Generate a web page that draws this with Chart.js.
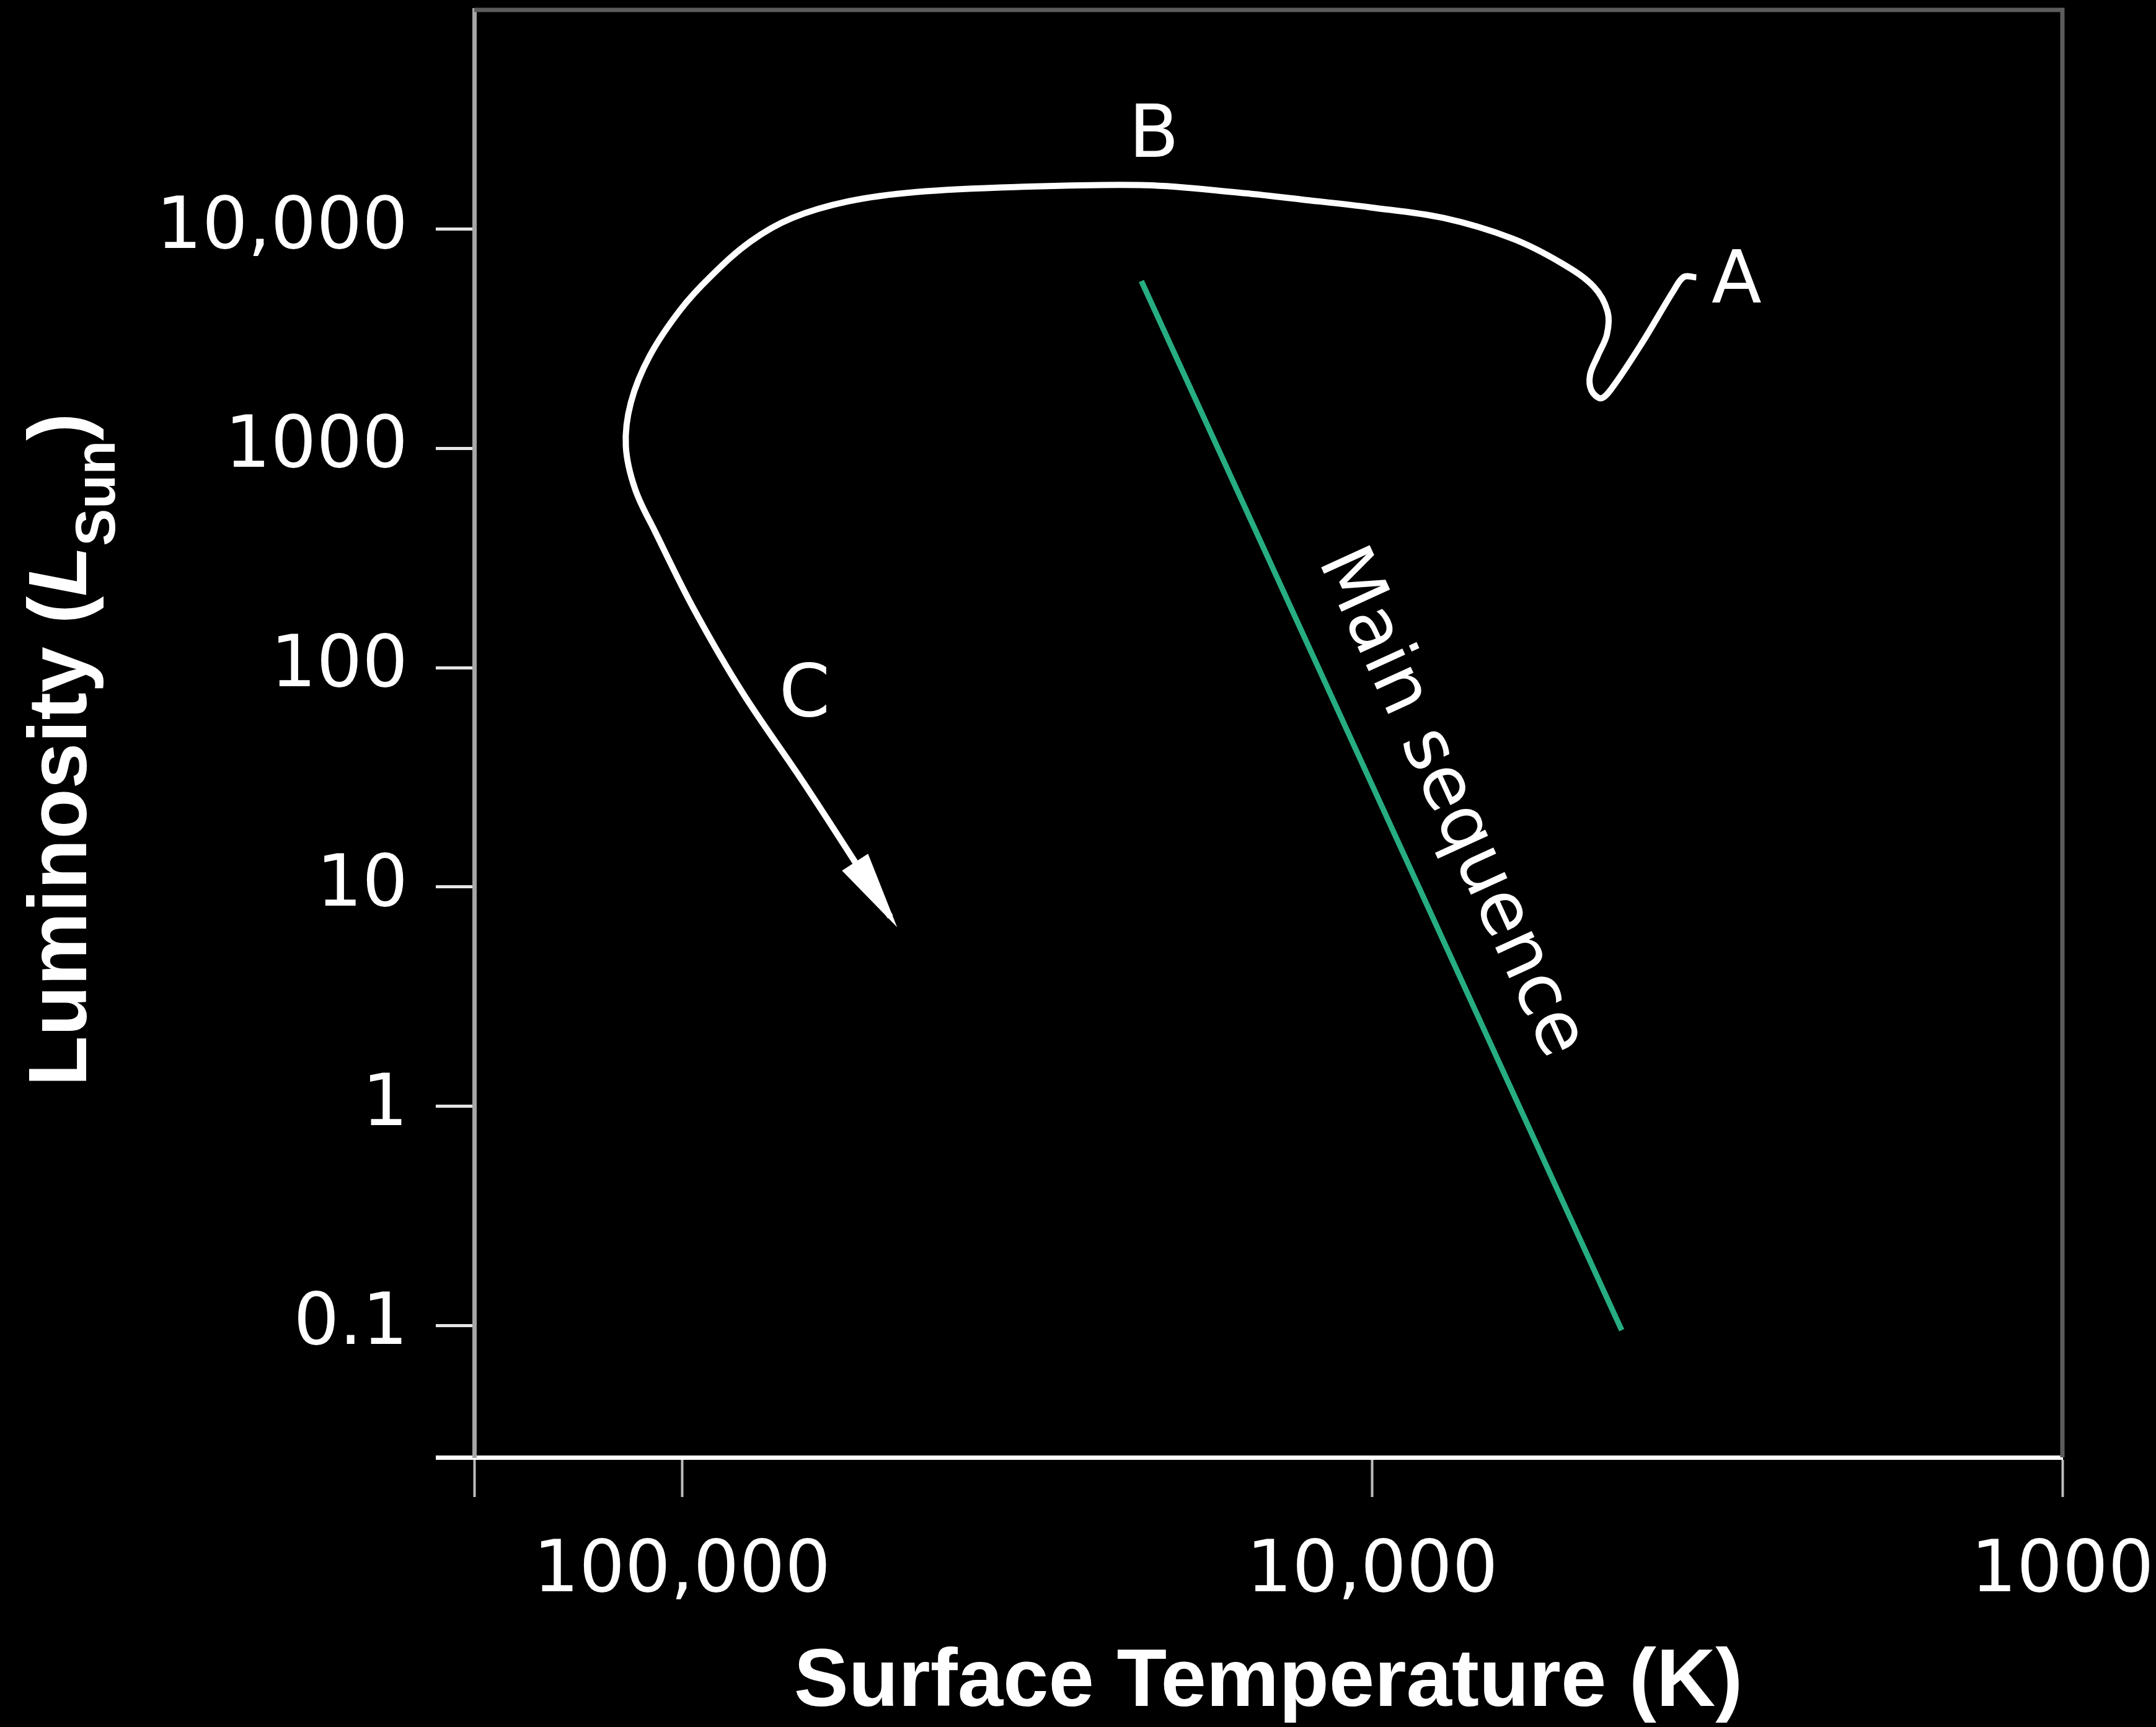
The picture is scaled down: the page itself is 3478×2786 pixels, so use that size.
<!DOCTYPE html>
<html>
<head>
<meta charset="utf-8">
<script src="https://cdn.jsdelivr.net/npm/chart.js@4.4.1/dist/chart.umd.min.js"></script>
<style>
  html, body { margin: 0; padding: 0; background: #000; }
  canvas { display: block; }
</style>
</head>
<body>
<canvas id="hr" width="3478" height="2786"></canvas>
<script>
// evolutionary track: starts at the end near A, hooks, runs over B, then down to C
const trackTemp = [3392, 3535, 3662, 4061, 4504, 4665, 4814, 4834, 4714, 4570, 4560, 4774,
  5315, 6272, 7875, 10035, 12680, 15600, 21280, 32860, 45760, 57340, 69230, 79560, 90620,
  100500, 111400, 118600, 120600, 116900, 109200, 96030, 81750, 66440, 49900]
const trackLum = [6022, 6061, 5218, 3041, 1867, 1693, 1843, 2169, 2636, 3310, 4211, 5461,
  6992, 9071, 11240, 12560, 13670, 14680, 15870, 15560, 14770, 13400, 11240, 8780, 6139,
  4294, 2636, 1618, 1026, 651, 413, 184, 77.1, 29.4, 7.3]

// main sequence, two ends
const mainSeqTemp = [21600, 4350]
const mainSeqLum = [5800, 0.095]

// letter labels along the track
const pointLabels = ['A', 'B', 'C']
const pointLabelTemp = [2965, 20710, 66440]
const pointLabelLum = [5641, 26180, 73.6]

const mainSeqText = 'Main sequence'
const mainSeqTextTemp = 7714
const mainSeqTextLum = 24.1

const xTickValues = [1000, 10000, 100000, 200000]
const xTickLabels = ['1000', '10,000', '100,000', '']
const yTickValues = [0.025, 0.1, 1, 10, 100, 1000, 10000]
const yTickLabels = ['', '0.1', '1', '10', '100', '1000', '10,000']

const toPoints = (xs, ys) => xs.map((x, i) => ({x: x, y: ys[i]}))

// grey frame on top and right of the plot
const frame = {
  id: 'frame',
  beforeDatasetsDraw(chart) {
    const {ctx, chartArea: a} = chart
    ctx.save()
    ctx.strokeStyle = '#5c5c5c'
    ctx.lineWidth = 7
    ctx.beginPath()
    ctx.moveTo(a.left, a.top)
    ctx.lineTo(a.right, a.top)
    ctx.lineTo(a.right, a.bottom)
    ctx.stroke()
    ctx.restore()
  }
}

const annotations = {
  id: 'annotations',
  afterDatasetsDraw(chart) {
    const {ctx, chartArea: a} = chart
    const sx = chart.scales.x, sy = chart.scales.y
    const px = (t, l) => ({x: sx.getPixelForValue(t), y: sy.getPixelForValue(l)})
    ctx.save()
    ctx.fillStyle = '#fff'

    // arrow head at the end of the track
    const n = trackTemp.length
    const p1 = px(trackTemp[n - 2], trackLum[n - 2])
    const p2 = px(trackTemp[n - 1], trackLum[n - 1])
    const ang = Math.atan2(p2.y - p1.y, p2.x - p1.x)
    ctx.save()
    ctx.translate(p2.x, p2.y)
    ctx.rotate(ang)
    ctx.beginPath()
    ctx.moveTo(20, 0)
    ctx.lineTo(-105, -25)
    ctx.lineTo(-105, 25)
    ctx.closePath()
    ctx.fill()
    ctx.restore()

    // A, B, C
    ctx.font = '118px "DejaVu Sans"'
    ctx.textAlign = 'center'
    ctx.textBaseline = 'middle'
    pointLabels.forEach((s, i) => {
      const p = px(pointLabelTemp[i], pointLabelLum[i])
      ctx.fillText(s, p.x, p.y)
    })

    // "Main sequence" along the green line
    const m1 = px(mainSeqTemp[0], mainSeqLum[0])
    const m2 = px(mainSeqTemp[1], mainSeqLum[1])
    const c = px(mainSeqTextTemp, mainSeqTextLum)
    ctx.save()
    ctx.translate(c.x, c.y)
    ctx.rotate(Math.atan2(m2.y - m1.y, m2.x - m1.x))
    ctx.font = '118px "DejaVu Sans"'
    ctx.fillText(mainSeqText, 0, 0)
    ctx.restore()

    // y axis title with italic L and subscript
    const parts = [
      {text: 'Luminosity (', font: 'bold 133px "Liberation Sans"', dy: 0},
      {text: 'L', font: 'italic bold 133px "Liberation Sans"', dy: 0},
      {text: 'Sun', font: 'bold 90px "Liberation Sans"', dy: 46},
      {text: ')', font: 'bold 133px "Liberation Sans"', dy: 0}
    ]
    let total = 0
    parts.forEach(p => { ctx.font = p.font; p.w = ctx.measureText(p.text).width; total += p.w })
    ctx.translate(139, (a.top + a.bottom) / 2 + 26)
    ctx.rotate(-Math.PI / 2)
    ctx.textAlign = 'left'
    ctx.textBaseline = 'alphabetic'
    let x = -total / 2
    parts.forEach(p => { ctx.font = p.font; ctx.fillText(p.text, x, p.dy); x += p.w })
    ctx.restore()
  }
}

let chart = new Chart(document.getElementById('hr'), {
  type: 'scatter',
  data: {
    datasets: [{
      label: 'Main sequence',
      data: toPoints(mainSeqTemp, mainSeqLum),
      showLine: true,
      borderColor: '#27ad82',
      borderWidth: 9,
      pointRadius: 0
    },
    {
      label: 'Track',
      data: toPoints(trackTemp, trackLum),
      showLine: true,
      borderColor: '#ffffff',
      borderWidth: 10,
      pointRadius: 0,
      tension: 0.35
    }]
  },
  options: {
    responsive: false,
    devicePixelRatio: 1,
    animation: false,
    layout: {padding: {top: 16, right: 151, left: 0, bottom: 0}},
    plugins: {legend: {display: false}, tooltip: {enabled: false}},
    scales: {
      x: {
        type: 'logarithmic',
        reverse: true,
        min: 1000,
        max: 200000,
        afterBuildTicks: s => { s.ticks = xTickValues.map(v => ({value: v})) },
        afterFit: s => { s.height = 435; s.paddingLeft = 0; s.paddingRight = 0 },
        ticks: {
          autoSkip: false,
          maxRotation: 0,
          color: '#fff',
          padding: 52,
          font: {family: 'DejaVu Sans', size: 116},
          callback: v => xTickLabels[xTickValues.indexOf(v)]
        },
        grid: {drawOnChartArea: false, tickLength: 64, tickColor: '#bdbdbd', tickWidth: 4},
        border: {color: '#fff', width: 7},
        title: {
          display: true,
          text: 'Surface Temperature (K)',
          color: '#fff',
          font: {family: 'Liberation Sans', weight: 'bold', size: 132, lineHeight: 1},
          padding: {top: 0, bottom: 4}
        }
      },
      y: {
        type: 'logarithmic',
        min: 0.025,
        max: 100000,
        afterBuildTicks: s => { s.ticks = yTickValues.map(v => ({value: v})) },
        afterFit: s => { s.width = 765; s.paddingTop = 0; s.paddingBottom = 0 },
        ticks: {
          autoSkip: false,
          color: '#fff',
          padding: 45,
          font: {family: 'DejaVu Sans', size: 116},
          callback: v => yTickLabels[yTickValues.indexOf(v)]
        },
        grid: {
          drawOnChartArea: false,
          tickLength: 62,
          tickColor: c => (c.tick && c.tick.value === yTickValues[0]) ? '#fff' : '#e6e6e6',
          tickWidth: c => (c.tick && c.tick.value === yTickValues[0]) ? 7 : 5
        },
        border: {color: '#a6a6a6', width: 7}
      }
    }
  },
  plugins: [frame, annotations]
})
</script>
</body>
</html>
